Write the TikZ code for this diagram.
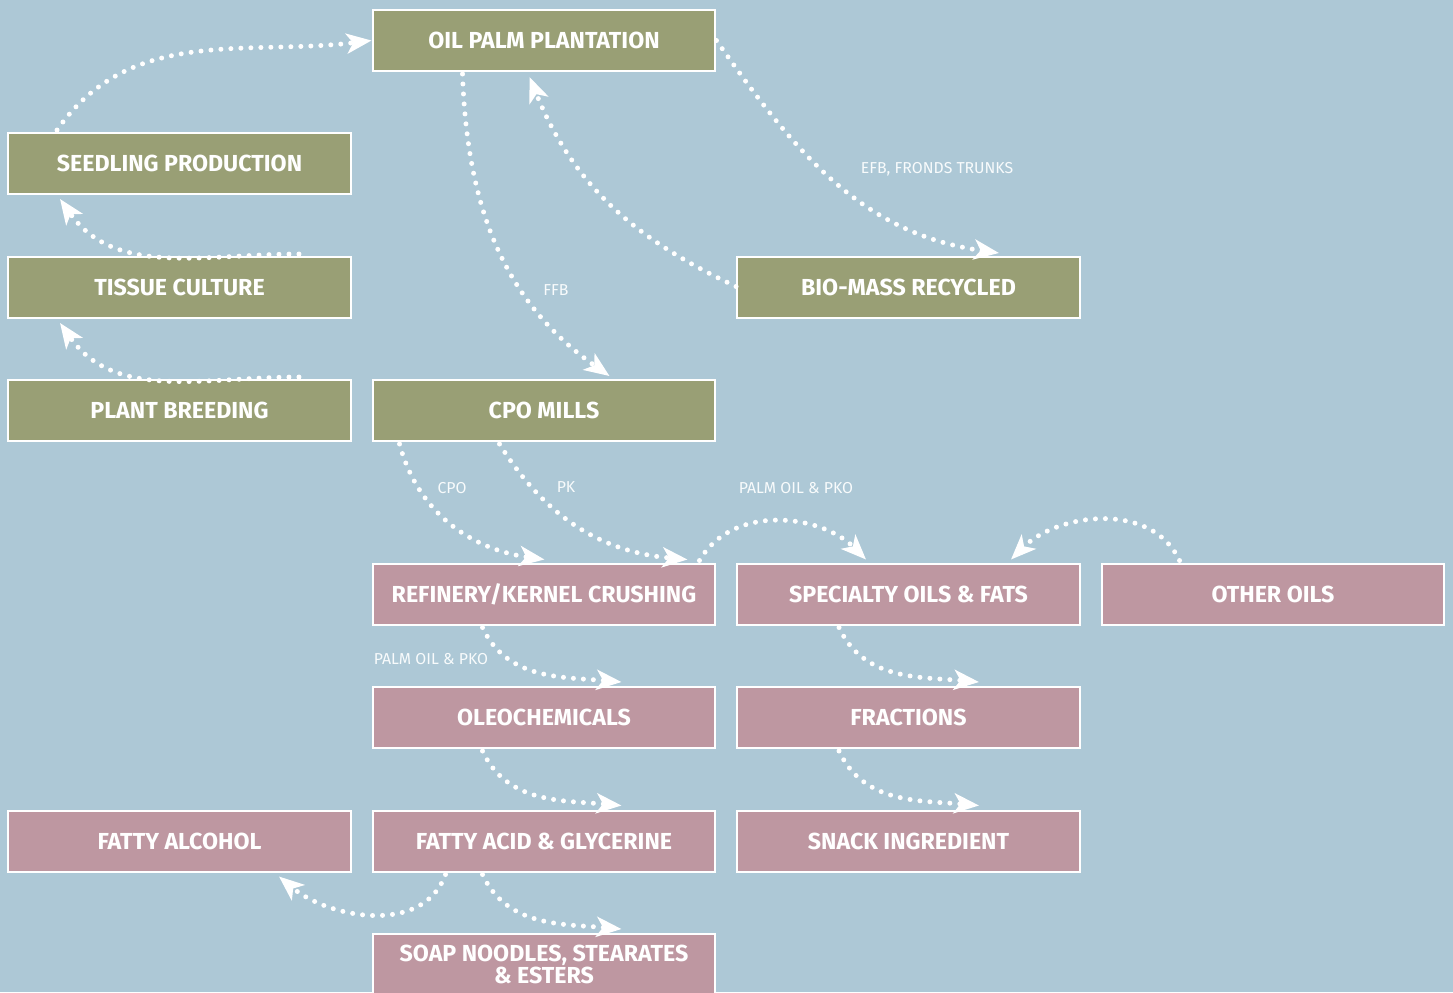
\documentclass[tikz,border=0pt]{standalone}
\usepackage{fontspec}
\setmainfont{Fira Sans}
\usetikzlibrary{arrows.meta}

\definecolor{bgblue}{HTML}{ADC8D6}
\definecolor{palmgreen}{HTML}{999F75}
\definecolor{oilpink}{HTML}{BE97A1}

\begin{document}
\begin{tikzpicture}
[
	x=0.02cm, y=-0.02cm,
	stagebox/.style={draw=white,line width=0.04cm,minimum width=6.86cm,minimum height=1.22cm,inner sep=0pt,align=center,text=white,font=\fontsize{13.2}{14.4}\selectfont\bfseries},
	farm/.style={stagebox,fill=palmgreen},
	product/.style={stagebox,fill=oilpink},
	flowlabel/.style={text=white!92!bgblue,font=\fontsize{9}{10}\selectfont,inner sep=0pt},
	flow/.style={white,line width=0.1cm,line cap=round,dash pattern=on 0pt off 0.2cm,-{Stealth[length=0.5cm,width=0.4cm,inset=0.13cm]}}
]

	% background
	\fill[bgblue] (0,0) rectangle (1453,992);
	\useasboundingbox (0,0) rectangle (1453,992);

	% plantation side
	\node[farm] (plantation) at (544,40.5) {OIL PALM PLANTATION};
	\node[farm] (seedling) at (179.5,163.5) {SEEDLING PRODUCTION};
	\node[farm] (tissue) at (179.5,287.5) {TISSUE CULTURE};
	\node[farm] (breeding) at (179.5,410.5) {PLANT BREEDING};
	\node[farm] (mills) at (544,410.5) {CPO MILLS};
	\node[farm] (biomass) at (908.5,287.5) {BIO-MASS RECYCLED};

	% products
	\node[product] (refinery) at (544,594) {REFINERY/KERNEL CRUSHING};
	\node[product] (specialty) at (908.5,594) {SPECIALTY OILS \& FATS};
	\node[product] (otheroils) at (1273,594) {OTHER OILS};
	\node[product] (oleo) at (544,717.5) {OLEOCHEMICALS};
	\node[product] (fractions) at (908.5,717.5) {FRACTIONS};
	\node[product] (alcohol) at (179.5,841) {FATTY ALCOHOL};
	\node[product] (acid) at (544,841) {FATTY ACID \& GLYCERINE};
	\node[product] (snack) at (908.5,841) {SNACK INGREDIENT};
	\node[product] (soap) at (544,964.5) {SOAP NOODLES, STEARATES\\[-2pt]\& ESTERS};

	% labels
	\node[flowlabel] (efb) at (937,169) {EFB, FRONDS TRUNKS};
	\node[flowlabel] (ffb) at (556,290) {FFB};
	\node[flowlabel] (cpo) at (452,488) {CPO};
	\node[flowlabel] (pk) at (566,487) {PK};
	\node[flowlabel] (pop) at (796,488) {PALM OIL \& PKO};
	\node[flowlabel] (pko) at (431,659) {PALM OIL \& PKO};

	% nursery loop
	\draw[flow] ([xshift=1cm,yshift=0.04cm]seedling.north west) to[out=55,in=187] (plantation.west);
	\draw[flow] ([xshift=5.84cm,yshift=0.04cm]tissue.north west) to[out=180,in=-55] ([xshift=1.06cm,yshift=-0.08cm]seedling.south west);
	\draw[flow] ([xshift=5.84cm,yshift=0.04cm]breeding.north west) to[out=180,in=-55] ([xshift=1.06cm,yshift=-0.08cm]tissue.south west);

	% plantation, mills and biomass
	\draw[flow] ([xshift=1.82cm,yshift=-0.04cm]plantation.south west) to[out=-88,in=145] ([xshift=4.76cm,yshift=0.06cm]mills.north west);
	\draw[flow] ([yshift=0.02cm]biomass.west) to[out=155,in=-68] ([xshift=3.16cm,yshift=-0.1cm]plantation.south west);
	\draw[flow] (plantation.east) to[out=-55,in=172] ([xshift=5.26cm,yshift=0.06cm]biomass.north west);

	% mills to refinery
	\draw[flow] ([xshift=0.56cm,yshift=-0.04cm]mills.south west) to[out=-75,in=172] ([xshift=3.46cm,yshift=0.06cm]refinery.north west);
	\draw[flow] ([xshift=2.56cm,yshift=-0.04cm]mills.south west) to[out=-58,in=175] ([xshift=6.32cm,yshift=0.06cm]refinery.north west);
	\draw[flow] ([xshift=-0.34cm,yshift=0.04cm]refinery.north east) to[out=60,in=135] ([xshift=2.6cm,yshift=0.06cm]specialty.north west);
	\draw[flow] ([xshift=1.58cm,yshift=0.04cm]otheroils.north west) to[out=115,in=45] ([xshift=5.5cm,yshift=0.06cm]specialty.north west);

	% downstream
	\draw[flow] ([xshift=2.22cm,yshift=-0.04cm]refinery.south west) to[out=-65,in=175] ([xshift=5cm,yshift=0.08cm]oleo.north west);
	\draw[flow] ([xshift=2.06cm,yshift=-0.04cm]specialty.south west) to[out=-65,in=175] ([xshift=4.86cm,yshift=0.08cm]fractions.north west);
	\draw[flow] ([xshift=2.22cm,yshift=-0.04cm]oleo.south west) to[out=-65,in=175] ([xshift=5cm,yshift=0.08cm]acid.north west);
	\draw[flow] ([xshift=2.06cm,yshift=-0.04cm]fractions.south west) to[out=-65,in=175] ([xshift=4.86cm,yshift=0.08cm]snack.north west);
	\draw[flow] ([xshift=2.22cm,yshift=-0.04cm]acid.south west) to[out=-65,in=175] ([xshift=5cm,yshift=0.08cm]soap.north west);
	\draw[flow] ([xshift=1.48cm,yshift=-0.04cm]acid.south west) to[out=-110,in=-40] ([xshift=-1.46cm,yshift=-0.08cm]alcohol.south east);

\end{tikzpicture}
\end{document}
